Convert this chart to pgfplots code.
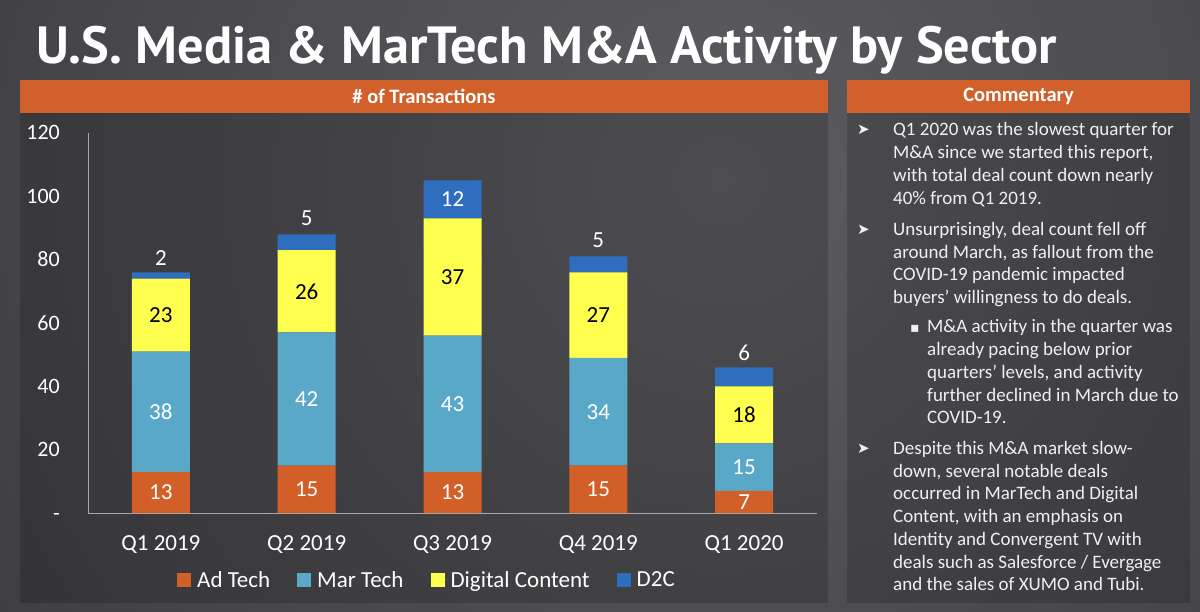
\documentclass[border=0pt]{standalone}
\usepackage{pgfplots}
\pgfplotsset{compat=1.18}
\usepackage{pgfplotstable}
\usepackage{graphicx}
\usepackage{fontspec}
\setmainfont{Carlito}
\newfontfamily\titlefont{PT Sans}
\newfontfamily\symfont{DejaVu Sans}
\definecolor{bgdark}{HTML}{36363A}
\definecolor{bglight}{HTML}{5C5C61}
\definecolor{hdr}{HTML}{D2602A}
\definecolor{adtech}{HTML}{D35F28}
\definecolor{martech}{HTML}{5AA8C8}
\definecolor{digital}{HTML}{FFFF4F}
\definecolor{dtc}{HTML}{2F6EBF}
\definecolor{axisgray}{HTML}{A8A8A8}
\definecolor{txt}{HTML}{F0F0F0}
\newcommand\fs[2]{\fontsize{#1}{#2}\selectfont}

\pgfplotstableread{
x ad mar dig d2c
0 13 38 23 2
1 15 42 26 5
2 13 43 37 12
3 15 34 27 5
4 7 15 18 6
}\counts
\pgfplotstableread{
x y l
0 6.5 13
1 7.5 15
2 6.5 13
3 7.5 15
4 3.5 7
}\adlab
\pgfplotstableread{
x y l
0 32 38
1 36 42
2 34.5 43
3 32 34
4 14.5 15
}\marlab
\pgfplotstableread{
x y l
0 62.5 23
1 70 26
2 74.5 37
3 62.5 27
4 31 18
}\diglab
\pgfplotstableread{
x y l
0 80.5 2
1 93 5
2 99 12
3 86 5
4 50.5 6
}\dtclab

\pgfplotsset{sq legend/.style={legend image code/.code={\path (0pt,0pt) -- (18pt,0pt); \fill[##1,draw=none] (0pt,-7pt) rectangle (14pt,7pt);}}}

\newcommand\cl[3]{\node[anchor=base west, inner sep=0pt, text=txt, font=\fs{19}{22.7}] at (#1,611-#2) {#3};}
\newcommand\arr[1]{\node[anchor=base west, inner sep=0pt, text=txt, font=\symfont\fs{15}{15}] at (857,611-#1+1) {➤};}

\begin{document}
\begin{tikzpicture}
\begin{scope}[x=1pt,y=1pt]
\begin{scope}
\clip (0,0) rectangle (1200,611);
\shade[inner color=bglight, outer color=bgdark] (720,430) circle (1100);
\end{scope}
\useasboundingbox (0,0) rectangle (1200,611);
% panels
\fill[black, opacity=0.16] (20,8) rectangle (828,531);
\fill[black, opacity=0.16] (847,8) rectangle (1190,531);
\fill[hdr] (20,498) rectangle (828,531);
\fill[hdr] (847,498) rectangle (1190,531);
\node[text=white, font=\fs{20.5}{24}\bfseries] at (424,514.5) {\# of Transactions};
\node[text=white, font=\fs{20.5}{24}\bfseries] at (1018.5,514.5) {Commentary};
% title
\node[anchor=base west, inner sep=0pt, text=white] at (36,611-64) {\resizebox{1021pt}{!}{\titlefont\bfseries U.S. Media \& MarTech M\&A Activity by Sector}};
% commentary
\arr{136}
\cl{893}{136}{Q1 2020 was the slowest quarter for}
\cl{893}{158.7}{M\&A since we started this report,}
\cl{893}{181.4}{with total deal count down nearly}
\cl{893}{204.1}{40\% from Q1 2019.}
\arr{235.5}
\cl{893}{235.5}{Unsurprisingly, deal count fell off}
\cl{893}{258.2}{around March, as fallout from the}
\cl{893}{280.9}{COVID-19 pandemic impacted}
\cl{893}{303.6}{buyers’ willingness to do deals.}
\node[anchor=base west, inner sep=0pt, text=txt, font=\symfont\fs{14}{14}] at (910,611-333) {▪};
\cl{927}{333}{M\&A activity in the quarter was}
\cl{927}{355.7}{already pacing below prior}
\cl{927}{378.4}{quarters’ levels, and activity}
\cl{927}{401.1}{further declined in March due to}
\cl{927}{423.8}{COVID-19.}
\arr{454.5}
\cl{893}{454.5}{Despite this M\&A market slow-}
\cl{893}{477.2}{down, several notable deals}
\cl{893}{499.9}{occurred in MarTech and Digital}
\cl{893}{522.6}{Content, with an emphasis on}
\cl{893}{545.3}{Identity and Convergent TV with}
\cl{893}{568.0}{deals such as Salesforce / Evergage}
\cl{893}{590.7}{and the sales of XUMO and Tubi.}
\end{scope}

\begin{axis}[
  at={(88pt,98pt)}, anchor=south west,
  scale only axis, width=729pt, height=380pt,
  xmin=-0.5, xmax=4.5, ymin=0, ymax=120,
  ybar stacked, bar width=58pt,
  axis x line*=bottom, axis y line*=left,
  axis line style={draw=axisgray, line width=1pt},
  xtick={0,1,2,3,4},
  xticklabels={Q1 2019,Q2 2019,Q3 2019,Q4 2019,Q1 2020},
  ytick={0,20,40,60,80,100,120},
  yticklabels={-,20,40,60,80,100,120},
  major tick length=0pt,
  /pgf/number format/assume math mode=true,
  tick label style={text=white, inner sep=0pt},
  xticklabel style={anchor=base, yshift=-37pt, font=\fs{23}{23}},
  yticklabel style={anchor=base east, xshift=-28pt, yshift=-7pt, font=\fs{22}{22}},
  legend columns=4,
  legend style={draw=none, fill=none, text=white, font=\fs{23}{23},
    at={(axis description cs:0.465,-0.176)}, anchor=center,
    /tikz/every even column/.append style={column sep=25pt}},
]
\addplot[fill=adtech, draw=none, sq legend] table[x=x,y=ad] {\counts};
\addplot[fill=martech, draw=none, sq legend] table[x=x,y=mar] {\counts};
\addplot[fill=digital, draw=none, sq legend] table[x=x,y=dig] {\counts};
\addplot[fill=dtc, draw=none, sq legend] table[x=x,y=d2c] {\counts};
\legend{Ad Tech, Mar Tech, Digital Content, D2C}
\end{axis}

\begin{axis}[
  at={(88pt,98pt)}, anchor=south west,
  scale only axis, width=729pt, height=380pt,
  xmin=-0.5, xmax=4.5, ymin=0, ymax=120,
  hide axis,
  nodes near coords, point meta=explicit symbolic,
  every node near coord/.append style={anchor=center, inner sep=0pt, font=\fs{23}{23}},
]
\addplot[draw=none, mark=none, nodes near coords style={text=white}] table[x=x,y=y,meta=l] {\adlab};
\addplot[draw=none, mark=none, nodes near coords style={text=white}] table[x=x,y=y,meta=l] {\marlab};
\addplot[draw=none, mark=none, nodes near coords style={text=black}] table[x=x,y=y,meta=l] {\diglab};
\addplot[draw=none, mark=none, nodes near coords style={text=white}] table[x=x,y=y,meta=l] {\dtclab};
\end{axis}
\end{tikzpicture}
\end{document}
